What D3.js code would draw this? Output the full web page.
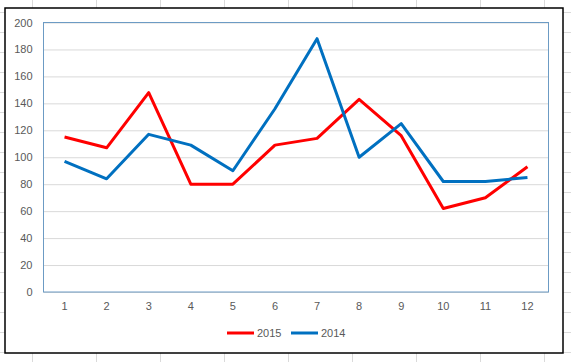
<!DOCTYPE html>
<html>
<head>
<meta charset="utf-8">
<script src="https://cdnjs.cloudflare.com/ajax/libs/d3/7.8.5/d3.min.js"></script>
<style>
  body { margin: 0; background: #ffffff; }
  svg { display: block; }
  text { font-family: "Liberation Sans", Arial, sans-serif; font-size: 11px; fill: #595959; }
</style>
</head>
<body>
<svg id="chart" width="571" height="362"></svg>
<script>
// ---- data ----
var months = ["1", "2", "3", "4", "5", "6", "7", "8", "9", "10", "11", "12"];
var values2015 = [115, 107, 148, 80, 80, 109, 114, 143, 116, 62, 70, 93];
var values2014 = [97, 84, 117, 109, 90, 136, 188, 100, 125, 82, 82, 85];
var yTicks = [0, 20, 40, 60, 80, 100, 120, 140, 160, 180, 200];
var seriesNames = ["2015", "2014"];
var seriesColours = ["#ff0000", "#0070c0"];

var svgWidth = 571;
var svgHeight = 362;
var plot = { left: 43.5, top: 22.5, right: 548.5, bottom: 292 };

var svg = d3.select("#chart");

//spreadsheet cells behind the chart
var sheet = svg.append("g").attr("class", "sheet");
sheet.selectAll("line.col")
    .data(d3.range(32, svgWidth, 64))
    .enter().append("line")
    .attr("x1", function (d) { return d + 0.5; })
    .attr("x2", function (d) { return d + 0.5; })
    .attr("y1", 0).attr("y2", svgHeight)
    .style("stroke", "#dadada");
sheet.selectAll("line.row")
    .data(d3.range(12, svgHeight, 20))
    .enter().append("line")
    .attr("y1", function (d) { return d + 0.5; })
    .attr("y2", function (d) { return d + 0.5; })
    .attr("x1", 0).attr("x2", svgWidth)
    .style("stroke", "#dadada");

//chart area
svg.append("rect")
    .attr("x", 5).attr("y", 8)
    .attr("width", 558).attr("height", 345)
    .style("fill", "#ffffff")
    .style("stroke", "#000000")
    .style("stroke-width", 1.5);

//scales
var xScale = d3.scaleBand()
    .domain(months)
    .range([plot.left, plot.right]);

var yScale = d3.scaleLinear()
    .domain([0, 200])
    .range([plot.bottom, plot.top]);

function xCentre(m) { return xScale(m) + xScale.bandwidth() / 2; }

//y axis with gridlines
var yAxis = d3.axisLeft(yScale)
    .tickValues(yTicks)
    .tickSize(-(plot.right - plot.left))
    .tickPadding(11);

var yGrp = svg.append("g")
    .attr("transform", "translate(" + plot.left + ",0)")
    .call(yAxis);
yGrp.select(".domain").remove();
yGrp.selectAll("line").style("stroke", "#d9d9d9");
yGrp.selectAll("text").style("fill", "#595959").style("font-size", "11px")
    .style("font-family", "'Liberation Sans', Arial, sans-serif");

//x axis labels
var xAxis = d3.axisBottom(xScale).tickSize(0).tickPadding(10);
var xGrp = svg.append("g")
    .attr("transform", "translate(0," + plot.bottom + ")")
    .call(xAxis);
xGrp.select(".domain").remove();
xGrp.selectAll("text").style("fill", "#595959").style("font-size", "11px")
    .style("font-family", "'Liberation Sans', Arial, sans-serif");

//plot area border
svg.append("rect")
    .attr("x", plot.left).attr("y", plot.top)
    .attr("width", plot.right - plot.left)
    .attr("height", plot.bottom - plot.top)
    .style("fill", "none")
    .style("stroke", "#6c9bc4")
    .style("stroke-width", 1);

//lines
var lineGen = d3.line()
    .x(function (d, i) { return xCentre(months[i]); })
    .y(function (d) { return yScale(d); });

var allSeries = [values2015, values2014];
svg.selectAll("path.series")
    .data(allSeries)
    .enter().append("path")
    .attr("class", "series")
    .attr("d", lineGen)
    .style("fill", "none")
    .style("stroke", function (d, i) { return seriesColours[i]; })
    .style("stroke-width", 3)
    .style("stroke-linejoin", "round");

//legend
var legendX = [227, 291];
var legend = svg.selectAll("g.legend")
    .data(seriesNames)
    .enter().append("g")
    .attr("class", "legend")
    .attr("transform", function (d, i) { return "translate(" + legendX[i] + ",333)"; });
legend.append("line")
    .attr("x1", 0).attr("x2", 27)
    .style("stroke", function (d, i) { return seriesColours[i]; })
    .style("stroke-width", 3);
legend.append("text")
    .attr("x", 30).attr("dy", "0.35em")
    .text(function (d) { return d; });
</script>
</body>
</html>
